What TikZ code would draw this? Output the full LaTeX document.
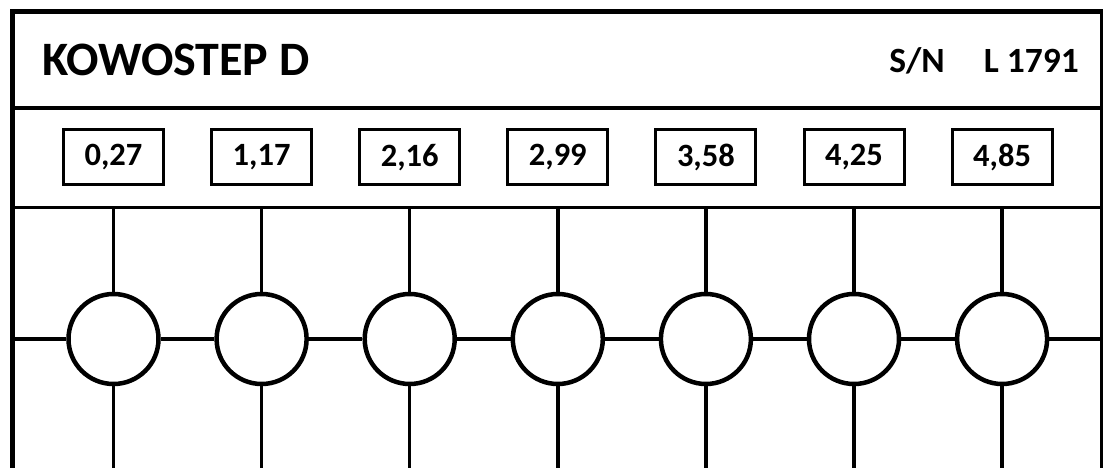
\documentclass[tikz,border=0pt]{standalone}
\usepackage{fontspec}
\setmainfont{Carlito}
\usetikzlibrary{positioning,calc}
\tikzset{
    framenode/.style={
            draw,
            line width=3pt,
            minimum width=100pt,
            minimum height=55pt,
            inner sep=0pt,
            font=\fontsize{32.5}{33}\selectfont\bfseries,
        }
}
\tikzset{
    ringnode/.style={
            draw,
            circle,
            line width=4.5pt,
            minimum size=90pt,
            inner sep=0pt,
        }
}
\tikzset{
    wire/.style={
            line width=3.5pt,
        }
}

\begin{document}
\begin{tikzpicture}[x=1pt,y=1pt]
    \useasboundingbox (0,0) rectangle (1103,468);

    % outer frame
    \coordinate (TL) at (12,456);
    \coordinate (BL) at (12,0);
    \coordinate (TR) at (1103,456);
    \coordinate (BR) at (1101,0);
    \draw[line width=5pt] (BL) -- (TL) -- (TR);
    \draw[line width=3pt] (BR) -- (BR |- TL);

    % separators
    \coordinate (S1) at (12,360);
    \coordinate (S2) at (12,260.5);
    \draw[wire] (S1) -- (S1 -| BR);
    \draw[wire] (S2) -- (S2 -| BR);

    % header
    \node[
        anchor=west,
        inner sep=0pt,
        font=\fontsize{48}{50}\selectfont\bfseries,
    ] (title) at (42,408) {KOWOSTEP D};
    \node[
        anchor=east,
        inner sep=0pt,
        font=\fontsize{35.5}{36}\selectfont\bfseries,
    ] (serial) at (1079,407) {S/N\hspace{39pt}L 1791};

    % values and rings
    \foreach \x/\l in {
            1/{0,27},
            2/{1,17},
            3/{2,16},
            4/{2,99},
            5/{3,58},
            6/{4,25},
            7/{4,85}
        }
        {
            \coordinate (T) at ({113.5+148.1*(\x-1)},0);
            \node[framenode] (V-\x) at (T |- 0,310.5) {\l};
            \node[ringnode] (C-\x) at (T |- 0,129) {};
            \coordinate (U-\x) at (T |- S2);
            \coordinate (D-\x) at (T);
        }

    % verticals
    \foreach \x in {1,...,7} {
            \draw[wire] (U-\x) -- (C-\x.north);
            \draw[wire] (C-\x.south) -- (D-\x);
        }

    % horizontals
    \draw[wire] (C-1.west -| BL) -- (C-1.west);
    \foreach \x [evaluate=\x as \y using int(\x+1)] in {1,...,6}
        \draw[wire] (C-\x.east) -- (C-\y.west);
    \draw[wire] (C-7.east) -- (C-7.east -| BR);
\end{tikzpicture}
\end{document}
